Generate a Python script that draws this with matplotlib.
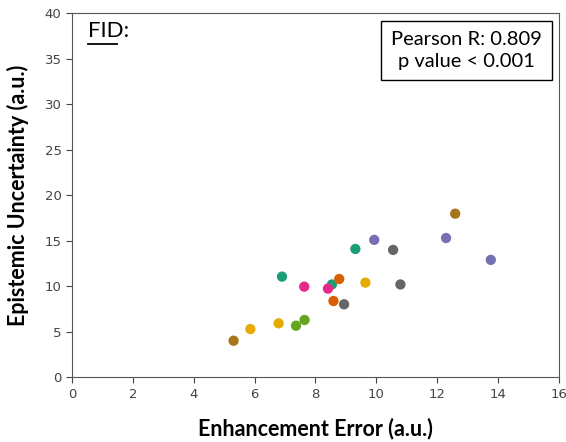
import matplotlib
matplotlib.use("Agg")
import matplotlib.pyplot as plt

# data: (x, y) per group, Dark2 colours
groups = ["teal", "vermilion", "purple", "pink", "green", "yellow", "brown", "gray"]
colors = ["#1b9e77", "#d95f02", "#7570b3", "#e7298a", "#66a61e", "#e6ab02", "#a6761d", "#666666"]
xs = [
    [9.31, 6.90, 8.54],
    [8.78, 8.59],
    [9.93, 12.29, 13.76],
    [7.63, 8.41],
    [7.64, 7.36],
    [9.64, 6.79, 5.86],
    [12.59, 5.31],
    [10.55, 10.79, 8.94],
]
ys = [
    [14.1, 11.06, 10.2],
    [10.8, 8.38],
    [15.1, 15.3, 12.9],
    [9.96, 9.74],
    [6.3, 5.67],
    [10.4, 5.93, 5.3],
    [17.98, 4.02],
    [14.0, 10.2, 8.02],
]
xticks = [0, 2, 4, 6, 8, 10, 12, 14, 16]
yticks = [0, 5, 10, 15, 20, 25, 30, 35, 40]

fig = plt.figure(figsize=(5.66, 4.42), dpi=100)
ax = fig.add_axes([0.1272, 0.1464, 0.8604, 0.8236])
for c, gx, gy in zip(colors, xs, ys):
    ax.scatter(gx, gy, s=55, color=c, edgecolors="none", zorder=3)

ax.set_xlim(0, 16)
ax.set_ylim(0, 40)
ax.set_xticks(xticks)
ax.set_yticks(yticks)
ax.tick_params(axis="both", labelsize=9.5, labelcolor="#444444", color="#444444",
               length=4, direction="out")
for sp in ax.spines.values():
    sp.set_color("#555555")

lab_font = dict(family=["Lato", "DejaVu Sans"], fontweight="bold", fontsize=15.5)
ax.set_xlabel("Enhancement Error (a.u.)", labelpad=12, **lab_font)
ax.set_ylabel("Epistemic Uncertainty (a.u.)", labelpad=11, **lab_font)

ax.text(0.033, 0.935, "FID:", transform=ax.transAxes, fontsize=16,
        family=["Lato", "DejaVu Sans"], va="baseline", ha="left")
ax.plot([0.033, 0.093], [0.915, 0.915], transform=ax.transAxes, color="black", lw=1.3)

ax.text(0.81, 0.898, "Pearson R: 0.809\np value < 0.001", transform=ax.transAxes,
        fontsize=14.5, family=["Lato", "DejaVu Sans"], ha="center", va="center",
        linespacing=1.35,
        bbox=dict(boxstyle="square,pad=0.5", facecolor="white", edgecolor="black", lw=1))

fig.savefig("out.png", dpi=100)
